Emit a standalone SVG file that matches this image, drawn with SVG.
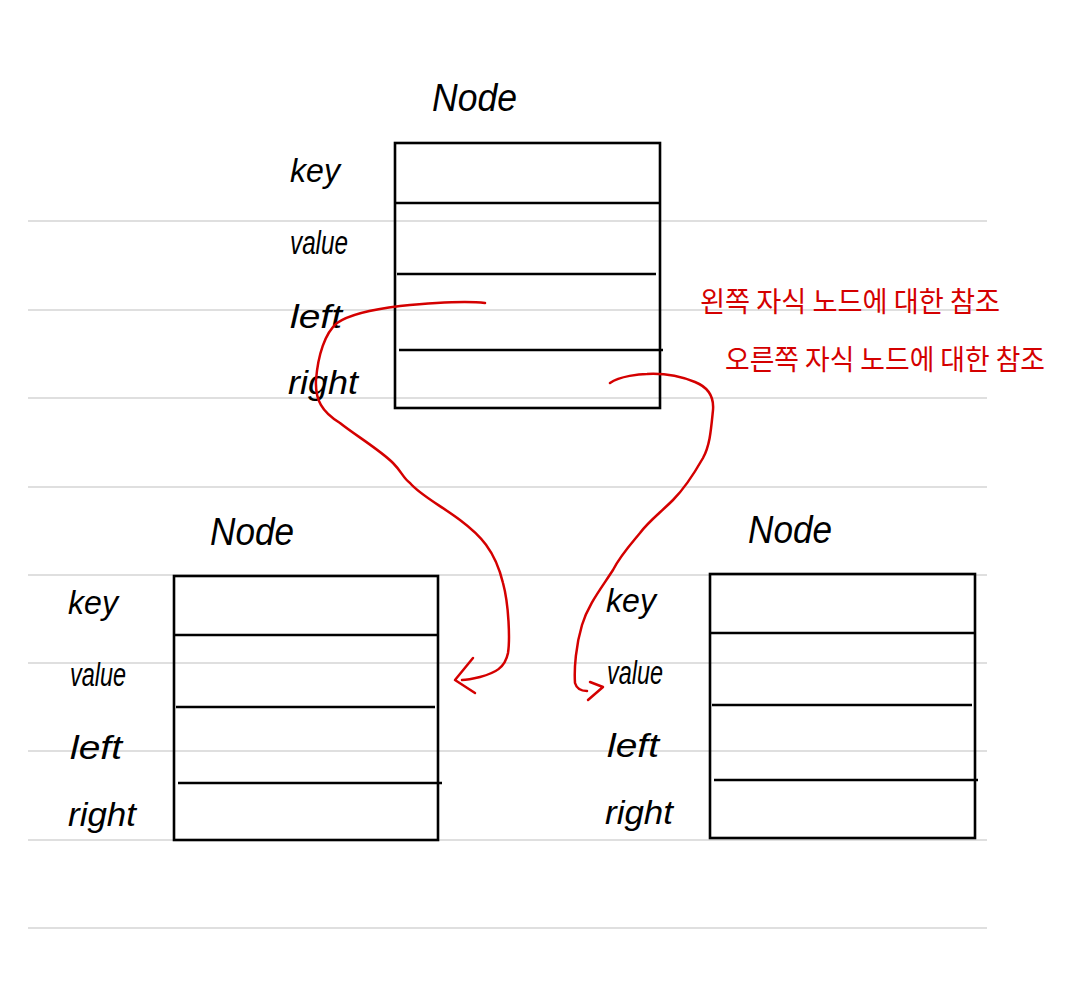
<svg xmlns="http://www.w3.org/2000/svg" width="1091" height="1000" viewBox="0 0 1091 1000">
<style>
.rule{stroke:#d4d4d4;stroke-width:1.5;fill:none}
.box{fill:none;stroke:#000;stroke-width:2.6}
.div{stroke:#000;stroke-width:2.6}
.title{font-family:"Liberation Sans",Arial,sans-serif;font-style:italic;font-size:38px;fill:#000}
.fld{font-family:"Liberation Sans",Arial,sans-serif;font-style:italic;font-size:34px;fill:#000}
.ref{fill:none;stroke:#d40000;stroke-width:2.5;stroke-linecap:round;stroke-linejoin:round}
.note{font-family:"Noto Sans CJK KR","Noto Sans",sans-serif;font-size:28px;fill:#d40000}
</style>
<rect width="1091" height="1000" fill="#fff"/>
<g id="rules">
<line class="rule" x1="28" y1="221" x2="987" y2="221"/>
<line class="rule" x1="28" y1="310" x2="987" y2="310"/>
<line class="rule" x1="28" y1="398" x2="987" y2="398"/>
<line class="rule" x1="28" y1="487" x2="987" y2="487"/>
<line class="rule" x1="28" y1="575" x2="987" y2="575"/>
<line class="rule" x1="28" y1="663" x2="987" y2="663"/>
<line class="rule" x1="28" y1="751" x2="987" y2="751"/>
<line class="rule" x1="28" y1="840" x2="987" y2="840"/>
<line class="rule" x1="28" y1="928" x2="987" y2="928"/>
</g>
<g id="node-root">
<text class="title" x="432" y="111" textLength="85" lengthAdjust="spacingAndGlyphs">Node</text>
<rect class="box" x="395" y="143" width="265" height="265"/>
<line class="div" x1="395" y1="203" x2="660" y2="203"/>
<line class="div" x1="397" y1="274" x2="656" y2="274"/>
<line class="div" x1="399" y1="350" x2="663" y2="350"/>
<text class="fld" x="290" y="182" textLength="50" lengthAdjust="spacingAndGlyphs">key</text>
<text class="fld" x="290" y="254" textLength="58" lengthAdjust="spacingAndGlyphs">value</text>
<text class="fld" x="290" y="328" textLength="52" lengthAdjust="spacingAndGlyphs">left</text>
<text class="fld" x="288" y="394" textLength="70" lengthAdjust="spacingAndGlyphs">right</text>
</g>
<g id="node-left">
<text class="title" x="210" y="545" textLength="84" lengthAdjust="spacingAndGlyphs">Node</text>
<rect class="box" x="174" y="576" width="264" height="264"/>
<line class="div" x1="174" y1="635" x2="438" y2="635"/>
<line class="div" x1="176" y1="707" x2="435" y2="707"/>
<line class="div" x1="178" y1="783" x2="442" y2="783"/>
<text class="fld" x="68" y="614" textLength="50" lengthAdjust="spacingAndGlyphs">key</text>
<text class="fld" x="70" y="686" textLength="56" lengthAdjust="spacingAndGlyphs">value</text>
<text class="fld" x="70" y="759" textLength="52" lengthAdjust="spacingAndGlyphs">left</text>
<text class="fld" x="68" y="826" textLength="68" lengthAdjust="spacingAndGlyphs">right</text>
</g>
<g id="node-right">
<text class="title" x="748" y="543" textLength="84" lengthAdjust="spacingAndGlyphs">Node</text>
<rect class="box" x="710" y="574" width="265" height="264"/>
<line class="div" x1="710" y1="633" x2="975" y2="633"/>
<line class="div" x1="712" y1="705" x2="972" y2="705"/>
<line class="div" x1="714" y1="780" x2="978" y2="780"/>
<text class="fld" x="606" y="612" textLength="50" lengthAdjust="spacingAndGlyphs">key</text>
<text class="fld" x="607" y="684" textLength="56" lengthAdjust="spacingAndGlyphs">value</text>
<text class="fld" x="607" y="757" textLength="52" lengthAdjust="spacingAndGlyphs">left</text>
<text class="fld" x="605" y="824" textLength="68" lengthAdjust="spacingAndGlyphs">right</text>
</g>
<g id="connectors">
<path class="ref" d="M485,303 C470,301 440,302 400,306 C375,309 350,314 337,323 C325,333 318,355 316,380 C315,400 322,412 340,423 C355,435 380,450 393,463 C402,472 403,478 410,483 C420,495 440,505 460,520 C480,535 495,550 503,583 C509,605 510,640 508,653 C505,668 495,673 480,677 C472,679 466,680 462,680"/>
<polyline class="ref" points="473,658 455,680 475,693"/>
<path class="ref" d="M610,383 C620,376 640,374 647,374 C665,373 680,376 695,382 C710,388 714,398 713,410 C711,430 710,445 703,458 C695,472 685,488 673,500 C660,513 648,522 640,533 C630,545 620,556 613,570 C600,590 588,605 582,625 C576,645 574,668 575,683 C577,690 583,691 587,691"/>
<polyline class="ref" points="590,682 603,687 588,700"/>
</g>
<g id="notes">
<text class="note" x="700" y="312" textLength="300" lengthAdjust="spacingAndGlyphs">왼쪽 자식 노드에 대한 참조</text>
<text class="note" x="725" y="370" textLength="320" lengthAdjust="spacingAndGlyphs">오른쪽 자식 노드에 대한 참조</text>
</g>
</svg>
